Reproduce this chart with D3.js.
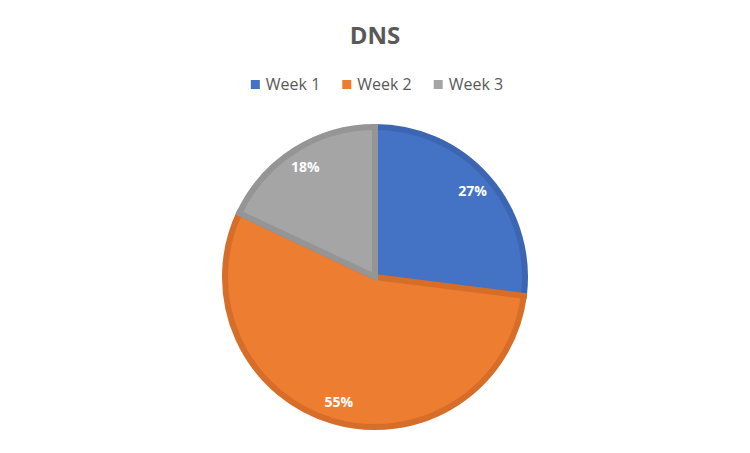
<!DOCTYPE html>
<html>
  <head>
    <script src="https://d3js.org/d3.v7.min.js" charset="utf-8"></script>
    <style type="text/css">
    body { margin: 0; background: #fff; }
    text { font-family: "Open Sans", "Noto Sans", sans-serif; }
    </style>
  </head>
  <body>
  <script type="text/javascript">
  // chart data
  var categories = ["Week 1", "Week 2", "Week 3"];
  var values = [27, 55, 18];
  var fills = ["#4472C4", "#ED7D31", "#A5A5A5"];
  var strokes = ["#3C66B2", "#D66E29", "#959595"];

  var width = 750, height = 453;
  var cx = 375, cy = 277, r = 150;

  var svg = d3.select("body").append("svg")
    .attr("width", width)
    .attr("height", height);

  // title
  svg.append("text")
    .attr("x", width / 2)
    .attr("y", 44)
    .attr("text-anchor", "middle")
    .attr("font-size", 24)
    .attr("font-weight", "bold")
    .attr("fill", "#595959")
    .text("DNS");

  // legend
  var legend = svg.append("g");
  var items = legend.selectAll("g")
    .data(categories)
    .enter().append("g");
  items.append("rect")
    .attr("width", 9).attr("height", 9)
    .attr("y", -10)
    .attr("fill", function(d, i) { return fills[i]; });
  items.append("text")
    .attr("x", 15)
    .attr("y", 0)
    .attr("font-size", 16)
    .attr("fill", "#595959")
    .text(function(d) { return d; });

  var xPos = 0;
  items.each(function() {
    d3.select(this).attr("transform", "translate(" + xPos + ",0)");
    xPos += this.getBBox().width + 22;
  });
  var legW = xPos - 22;
  legend.attr("transform", "translate(" + (cx + 2 - legW / 2) + ",90)");

  // pie
  var pie = d3.pie().sort(null).value(function(d) { return d; });
  var arc = d3.arc().innerRadius(0).outerRadius(r);
  var labelArc = d3.arc().innerRadius(130).outerRadius(130);

  var g = svg.append("g").attr("transform", "translate(" + cx + "," + cy + ")");
  var arcs = pie(values);

  g.selectAll("path")
    .data(arcs)
    .enter().append("path")
    .attr("d", arc)
    .attr("fill", function(d, i) { return fills[i]; })
    .attr("stroke", function(d, i) { return strokes[i]; })
    .attr("stroke-width", 6)
    .attr("stroke-linejoin", "miter");

  var total = d3.sum(values);
  g.selectAll("text.lbl")
    .data(arcs)
    .enter().append("text")
    .attr("class", "lbl")
    .attr("transform", function(d) { return "translate(" + labelArc.centroid(d) + ")"; })
    .attr("text-anchor", "middle")
    .attr("dy", "0.35em")
    .attr("font-size", 14)
    .attr("font-weight", "bold")
    .attr("fill", "#fff")
    .text(function(d) { return Math.round(d.data / total * 100) + "%"; });
  </script>
  </body>
</html>
